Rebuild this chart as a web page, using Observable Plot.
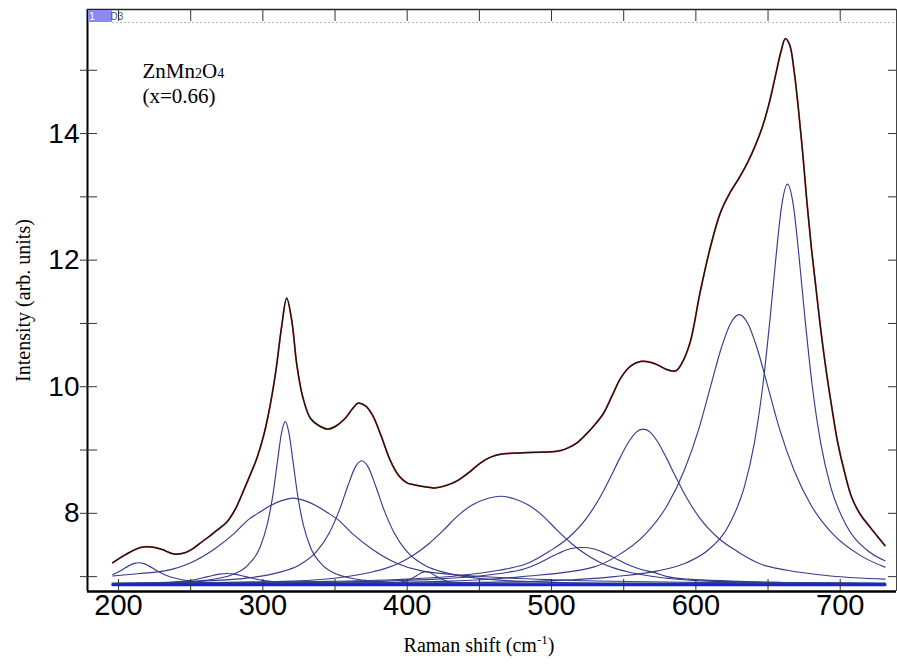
<!DOCTYPE html>
<html><head><meta charset="utf-8">
<script src="https://cdn.jsdelivr.net/npm/d3@7"></script>
<script src="https://cdn.jsdelivr.net/npm/@observablehq/plot@0.6"></script>
<style>body{margin:0;background:#fff} #chart svg{display:block}</style>
</head><body><div id="chart"></div>
<script>
// Measured spectrum (black) / fit (red)
const specX = [196,205,215,222,230,238,245,250,256,262,268,275,281,287,292,296,301,305,309,313,316.5,320,323.5,327.5,333,340,345,350,357,362,366,371,376,382,388,394,400,405,412,419,427,435,443,451,458,466,474,482,490,498,506,512,518,524,530,536,542,548,555,562,568,574,580,586,590,596,603,610,617,624,630,636,641,646,651,655,659,662,665,668,671,674,677,680,683,686,690,694,698,703,708,714,720,726,731];
const specY = [7.22,7.35,7.46,7.47,7.43,7.36,7.37,7.42,7.52,7.62,7.73,7.86,8.07,8.38,8.65,8.88,9.27,9.70,10.25,10.95,11.40,11.05,10.35,9.85,9.50,9.37,9.33,9.37,9.50,9.65,9.74,9.70,9.55,9.22,8.85,8.60,8.48,8.45,8.42,8.40,8.44,8.52,8.65,8.80,8.89,8.94,8.95,8.96,8.965,8.97,8.99,9.04,9.12,9.25,9.40,9.58,9.86,10.14,10.33,10.40,10.39,10.34,10.27,10.25,10.36,10.70,11.50,12.20,12.75,13.08,13.30,13.55,13.80,14.10,14.50,14.90,15.30,15.50,15.40,15.00,14.40,13.70,12.90,12.20,11.60,11.00,10.30,9.70,9.15,8.65,8.25,7.98,7.80,7.63,7.49];

// Fitted components (blue)
const p214X = [196,202,207,211,214,217,221,226,232,240,250,265,290,330,731];
const p214Y = [7.03,7.10,7.17,7.21,7.22,7.21,7.17,7.10,7.03,6.97,6.93,6.90,6.89,6.88,6.87];
const p275X = [196,230,250,262,270,275,280,288,300,320,360,731];
const p275Y = [6.88,6.90,6.94,7.00,7.04,7.05,7.04,7.00,6.94,6.90,6.88,6.87];
const p315X = [196,230,260,280,290,298,303,307,310,313,315.5,318,321,324,328,333,341,351,371,400,450,550,731];
const p315Y = [6.89,6.90,6.94,7.04,7.19,7.46,7.82,8.30,8.80,9.28,9.45,9.28,8.80,8.30,7.82,7.46,7.19,7.04,6.94,6.90,6.88,6.875,6.87];
const p321X = [196,215,232,250,266,280,290,298,305,313,321,329,337,344,352,362,376,392,410,446,500,600,731];
const p321Y = [7.01,7.05,7.09,7.22,7.43,7.68,7.90,8.02,8.12,8.20,8.24,8.20,8.12,8.02,7.90,7.68,7.43,7.22,7.09,7.01,6.95,6.91,6.89];
const p368X = [196,250,290,310,325,337,346,353,359,364,368.5,373,378,384,391,400,412,427,447,487,550,731];
const p368Y = [6.89,6.92,6.98,7.06,7.18,7.39,7.69,8.05,8.44,8.73,8.83,8.73,8.44,8.05,7.69,7.39,7.18,7.06,6.98,6.92,6.89,6.88];
const p413X = [196,380,395,402,407,410,413,416,419,424,431,446,731];
const p413Y = [6.87,6.88,6.91,6.96,7.02,7.06,7.08,7.06,7.02,6.96,6.91,6.88,6.87];
const p464X = [196,260,320,355,375,385,395,405,415,425,435,445,455,464.5,474,484,494,504,514,524,534,544,554,574,609,669,731];
const p464Y = [6.89,6.905,6.93,6.99,7.07,7.13,7.22,7.35,7.52,7.73,7.96,8.13,8.23,8.27,8.23,8.13,7.96,7.73,7.52,7.35,7.22,7.13,7.07,6.99,6.93,6.905,6.89];
const p521X = [196,300,380,420,450,470,481,490,497,505,513,521,529,537,545,552,561,572,580,595,625,680,731];
const p521Y = [6.89,6.90,6.93,6.96,7.01,7.07,7.12,7.20,7.28,7.37,7.44,7.46,7.44,7.37,7.28,7.20,7.12,7.06,7.00,6.96,6.93,6.90,6.89];
const p563X = [196,263.5,333.5,393.5,433.5,463.5,483.5,498.5,511.5,523.5,533.5,541.5,547.5,553.5,558.5,563.5,568.5,573.5,579.5,585.5,593.5,603.5,615.5,628.5,643.5,663.5,693.5,731];
const p563Y = [6.89,6.90,6.92,6.955,7.01,7.10,7.21,7.40,7.61,7.90,8.25,8.60,8.88,9.13,9.28,9.33,9.28,9.13,8.88,8.60,8.25,7.90,7.61,7.40,7.21,7.10,7.01,6.96];
const p630X = [196,270,350,430,480,529,545,565,580,592,602,610,618,624,630,636,642,650,658,668,680,695,715,731];
const p630Y = [6.88,6.89,6.90,6.93,7.00,7.15,7.32,7.67,8.12,8.68,9.33,9.99,10.64,11.00,11.14,11.00,10.64,9.99,9.33,8.68,8.12,7.67,7.32,7.15];
const p663X = [196.5,313.5,413.5,493.5,543.5,573.5,593.5,608.5,623.5,633.5,640.5,646.5,651.5,655.5,659.5,663.5,667.5,671.5,675.5,680.5,686.5,693.5,703.5,718.5,731];
const p663Y = [6.88,6.885,6.90,6.93,7.00,7.09,7.22,7.42,7.84,8.41,9.11,10.04,11.10,12.05,12.87,13.20,12.87,12.05,11.10,10.04,9.11,8.41,7.84,7.42,7.25];
const baseX = [196,731];
const baseY = [6.87,6.87];
const base2Y = [6.895,6.895];

// Axes
const xDomain = [178.5,739];
const yDomain = [6.765,15.96];
const xTicks = [200,250,300,350,400,450,500,550,600,650,700];
const xLabels = [200,300,400,500,600,700];
const yTicks = [7,8,9,10,11,12,13,14,15];
const yLabels = [8,10,12,14];

const zip = (xs, ys, id) => xs.map((x, i) => ({x, y: ys[i], id}));
const comps = [[p214X,p214Y],[p275X,p275Y],[p315X,p315Y],[p321X,p321Y],[p368X,p368Y],[p413X,p413Y],[p464X,p464Y],[p521X,p521Y],[p563X,p563Y],[p630X,p630Y],[p663X,p663Y]];
const compRows = comps.flatMap(([xs, ys], k) => zip(xs, ys, k));
const spec = zip(specX, specY, "s");
const base1 = zip(baseX, baseY, "b1");
const base2 = zip(baseX, base2Y, "b2");

const W = 897, H = 666, ML = 87, MR = 1, MT = 9, MB = 75;
const FW = W - ML - MR, FH = H - MT - MB;
const serif = "'Liberation Serif','Times New Roman',serif";
const sans = "'Liberation Sans',Arial,sans-serif";

const svg = Plot.plot({
  width: W, height: H,
  marginLeft: ML, marginRight: MR, marginTop: MT, marginBottom: MB,
  x: {domain: xDomain, axis: null},
  y: {domain: yDomain, axis: null},
  style: {fontFamily: sans, background: "#fff", overflow: "visible"},
  marks: [
    Plot.ruleY([yDomain[1]], {dy: 13, insetLeft: 25, stroke: "#bbb", strokeDasharray: "2,2"}),
    Plot.line(base2, {x: "x", y: "y", stroke: "#9a9cbc", strokeWidth: 2.5}),
    Plot.line(compRows, {x: "x", y: "y", z: "id", stroke: "#363c8c", strokeWidth: 1.15, curve: "monotone-x"}),
    Plot.line(base1, {x: "x", y: "y", stroke: "#1a26d4", strokeWidth: 3}),
    Plot.line(spec, {x: "x", y: "y", stroke: "#c0392b", strokeWidth: 1.8, curve: "catmull-rom"}),
    Plot.line(spec, {x: "x", y: "y", stroke: "#111", strokeWidth: 1.2, curve: "catmull-rom"}),
    // frame
    Plot.ruleX([xDomain[0]], {stroke: "#000", strokeWidth: 2}),
    Plot.ruleY([yDomain[0]], {stroke: "#000", strokeWidth: 2.5}),
    Plot.ruleY([yDomain[1]], {stroke: "#222", strokeWidth: 1.5}),
    Plot.ruleX([xDomain[1]], {stroke: "#444", strokeWidth: 1}),
    // ticks
    Plot.ruleX(xTicks, {x: d => d, insetTop: FH - 12, stroke: "#333"}),
    Plot.ruleX(xTicks, {x: d => d, insetBottom: FH - 12, stroke: "#333"}),
    Plot.ruleY(yTicks, {y: d => d, insetLeft: -7, insetRight: FW - 10, stroke: "#333"}),
    Plot.ruleY(yTicks, {y: d => d, insetLeft: FW - 8, stroke: "#333"}),
    // tick labels
    Plot.text(xLabels, {x: d => d, text: d => String(d), frameAnchor: "bottom", dy: 23, fontSize: 29, fill: "#000"}),
    Plot.text(yLabels, {y: d => d, text: d => String(d), frameAnchor: "left", dx: -8, textAnchor: "end", fontSize: 28, fill: "#000"}),
    // axis titles
    Plot.text(["Raman shift (cm-1)"], {text: d => d, frameAnchor: "bottom", dx: -13, dy: 60, fontFamily: serif, fontSize: 20, fill: "#000"}),
    Plot.text(["Intensity (arb. units)"], {text: d => d, frameAnchor: "left", textAnchor: "middle", dx: -64, rotate: -90, fontFamily: serif, fontSize: 20, fill: "#000"}),
    // annotation
    Plot.text(["ZnMn2O4"], {text: d => d, frameAnchor: "top-left", dx: 55, dy: 54, textAnchor: "start", fontFamily: serif, fontSize: 21, fill: "#000"}),
    Plot.text(["(x=0.66)"], {text: d => d, frameAnchor: "top-left", dx: 55, dy: 79, textAnchor: "start", fontFamily: serif, fontSize: 21, fill: "#000"})
  ]
});

const s = d3.select(svg);
s.selectAll("text").filter(function(){ return this.textContent === "ZnMn2O4"; }).each(function(){
  const t = d3.select(this); t.text(null);
  t.append("tspan").text("ZnMn");
  t.append("tspan").attr("font-size", 14).text("2");
  t.append("tspan").text("O");
  t.append("tspan").attr("font-size", 14).text("4");
});
s.selectAll("text").filter(function(){ return this.textContent === "Raman shift (cm-1)"; }).each(function(){
  const t = d3.select(this); t.text(null);
  t.append("tspan").text("Raman shift (cm");
  t.append("tspan").attr("font-size", 13).attr("dy", -8).text("-1");
  t.append("tspan").attr("dy", 8).text(")");
});
// small data-set tag at the top-left of the frame
const tag = s.append("g").attr("font-family", sans).attr("font-size", 10);
tag.append("rect").attr("x", ML + 1).attr("y", MT + 1).attr("width", 24).attr("height", 12).attr("fill", "#8a8af2");
tag.append("text").attr("x", ML + 5).attr("y", MT + 11).attr("fill", "#fff").text("1");
tag.append("text").attr("x", ML + 30).attr("y", MT + 11).attr("fill", "#555").text("D3");

document.getElementById("chart").append(svg);
</script>
</body></html>
